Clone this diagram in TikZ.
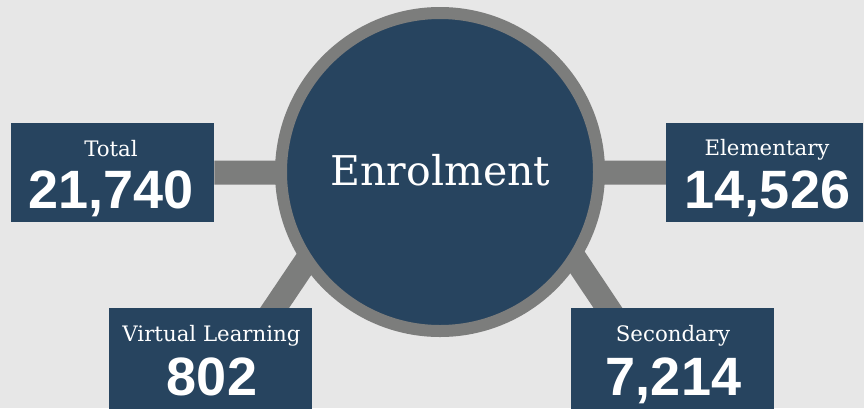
\documentclass[tikz,border=0pt]{standalone}
\usepackage{fontspec}
\setmainfont{DejaVu Serif}
\newfontfamily\numfont{Liberation Sans}
\definecolor{bgc}{HTML}{E7E7E7}
\definecolor{navy}{HTML}{27445F}
\definecolor{barc}{HTML}{7C7D7C}
\begin{document}
\begin{tikzpicture}[x=1pt,y=-1pt,
  bar/.style={draw=barc,line width=24pt},
  box/.style={fill=navy,draw=none,inner sep=0pt,anchor=north west},
  lbl/.style={text=white,inner sep=0pt,anchor=base,font=\fontsize{21.3}{24}\selectfont},
  num/.style={text=white,inner sep=0pt,anchor=base,font=\numfont\bfseries\fontsize{54}{60}\selectfont},
  hub/.style={circle,fill=navy,draw=barc,line width=12pt,minimum size=318pt,inner sep=0pt}]
\useasboundingbox (0,0) rectangle (864,408);
\clip (0,0) rectangle (864,408);
\fill[bgc] (0,0) rectangle (864,408);
% coordinates for connectors
\coordinate (c) at (440,172);
\coordinate (vlstart) at (266.5,320);
\coordinate (vlend) at (356,187);
\coordinate (scstart) at (616,320);
\coordinate (scend) at (527,187);
% boxes
\node[box,minimum width=203pt,minimum height=99pt] (totbox) at (11,123) {};
\node[box,minimum width=197pt,minimum height=99pt] (elbox) at (666,123) {};
\node[box,minimum width=203pt,minimum height=102pt] (vlbox) at (109,308) {};
\node[box,minimum width=203pt,minimum height=102pt] (scbox) at (571,308) {};
% connectors (behind)
\draw[bar] (totbox.east) -- (c);
\draw[bar] (elbox.west) -- (c);
\draw[bar] (vlstart) -- (vlend);
\draw[bar] (scstart) -- (scend);
% redraw boxes over connectors
\fill[navy] (totbox.north west) rectangle (totbox.south east);
\fill[navy] (elbox.north west) rectangle (elbox.south east);
\fill[navy] (vlbox.north west) rectangle (vlbox.south east);
\fill[navy] (scbox.north west) rectangle (scbox.south east);
% hub
\node[hub] (hub) at (c) {};
\node[text=white,inner sep=0pt,anchor=base,font=\fontsize{41}{48}\selectfont] (hubtxt) at (440.5,185) {Enrolment};
% texts
\node[lbl] (totl) at (111,156) {Total};
\node[num] (totn) at (111,208) {21,740};
\node[lbl] (ell) at (767,155.5) {Elementary};
\node[num] (eln) at (767.5,208) {14,526};
\node[lbl] (vll) at (211.5,341) {Virtual Learning};
\node[num] (vln) at (212,395) {802};
\node[lbl] (scl) at (673,341) {Secondary};
\node[num] (scn) at (673.5,395) {7,214};
\end{tikzpicture}
\end{document}
